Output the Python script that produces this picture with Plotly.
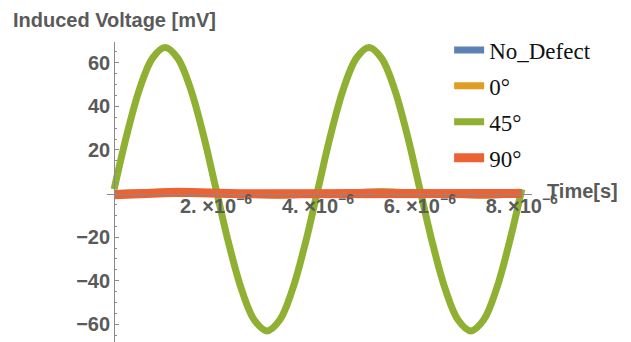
import plotly.graph_objects as go

# ---- data ----
t_us = [0, 0.25, 0.5, 0.75, 1.0, 1.25, 1.5, 1.75, 2.0, 2.25, 2.5, 2.75, 3.0, 3.25, 3.5, 3.75,
        4.0, 4.25, 4.5, 4.75, 5.0, 5.25, 5.5, 5.75, 6.0, 6.25, 6.5, 6.75, 7.0, 7.25, 7.5, 7.75, 8.0]
time_s = [v * 1e-6 for v in t_us]

no_defect = [0, 0.3, 0.6, 0.8, 0.8, 0.8, 0.6, 0.3, 0, -0.3, -0.6, -0.8, -0.8, -0.8, -0.6, -0.3,
             0, 0.3, 0.6, 0.8, 0.8, 0.8, 0.6, 0.3, 0, -0.3, -0.6, -0.8, -0.8, -0.8, -0.6, -0.3, 0]
deg0 = [0, 0.3, 0.6, 0.8, 0.8, 0.8, 0.6, 0.3, 0, -0.3, -0.6, -0.8, -0.8, -0.8, -0.6, -0.3,
        0, 0.3, 0.6, 0.8, 0.8, 0.8, 0.6, 0.3, 0, -0.3, -0.6, -0.8, -0.8, -0.8, -0.6, -0.3, 0]
deg45 = [2, 27, 48, 62, 67, 62, 48, 27, 2, -23, -44, -58, -63, -58, -44, -23,
         2, 27, 48, 62, 67, 62, 48, 27, 2, -23, -44, -58, -63, -58, -44, -23, 2]
deg90 = [-0.6, -0.3, 0.5, 0.6, 0.6, 0.6, 0.5, 0.0, 0.0, 0.0, -0.1, -0.1, -0.1, -0.1, 0.0, 0.0,
         0.0, 0.3, 0.5, 0.6, 0.6, 0.6, 0.5, 0.0, 0.0, 0.0, -0.1, -0.1, -0.1, -0.1, 0.0, 0.0, 0.0]

names = ["No_Defect", "0°", "45°", "90°"]
colors = ["#5E81B5", "#E19C24", "#8FB032", "#EB6235"]
series = [no_defect, deg0, deg45, deg90]

x_tick_vals = [2e-6, 4e-6, 6e-6, 8e-6]
x_tick_text = ["2. ×10<sup>−6</sup>", "4. ×10<sup>−6</sup>", "6. ×10<sup>−6</sup>", "8. ×10<sup>−6</sup>"]
y_tick_vals = [-60, -40, -20, 20, 40, 60]
y_tick_text = ["−60", "−40", "−20", "20", "40", "60"]

x_range = [-0.14e-6, 8.2e-6]
y_range = [-68.1, 69.5]

fig = go.Figure()
for i, (nm, c, ys) in enumerate(zip(names, colors, series)):
    fig.add_trace(go.Scatter(
        x=time_s, y=ys, mode="lines", name=nm,
        line=dict(color=c, width=9 if i == 3 else 7,
                  shape="spline" if i == 2 else "linear"),
        legendgroup=str(i),
    ))

axis_gray = "#8a8a8a"
label_gray = "#5a5a5a"
tick_font = dict(family="Liberation Sans", size=20, color=label_gray, weight="bold")

x0_frac = (0 - x_range[0]) / (x_range[1] - x_range[0])
y0_frac = (0 - y_range[0]) / (y_range[1] - y_range[0])

fig.update_layout(
    width=631, height=342,
    margin=dict(l=107, r=99, t=42, b=0),
    paper_bgcolor="white", plot_bgcolor="white",
    showlegend=True,
    legend=dict(
        x=0.805, y=1.045, xanchor="left", yanchor="top",
        font=dict(family="Liberation Serif", size=23, color="#111111"),
        bgcolor="rgba(0,0,0,0)", tracegroupgap=3, traceorder="grouped",
    ),
    xaxis=dict(
        range=x_range, anchor="free", position=y0_frac,
        showgrid=False, zeroline=False,
        showline=True, linecolor=axis_gray, linewidth=1,
        tickvals=x_tick_vals, ticktext=x_tick_text, tickfont=tick_font,
        ticks="inside", ticklen=4, tickcolor=axis_gray, ticklabelstandoff=-6,
        minor=dict(dtick=0.5e-6, tick0=0, ticks="inside", ticklen=2, tickcolor=axis_gray),
    ),
    yaxis=dict(
        range=y_range, anchor="free", position=x0_frac,
        showgrid=False, zeroline=False,
        showline=True, linecolor=axis_gray, linewidth=1,
        tickvals=y_tick_vals, ticktext=y_tick_text, tickfont=tick_font,
        ticks="inside", ticklen=4, tickcolor=axis_gray,
        minor=dict(dtick=5, tick0=0, ticks="inside", ticklen=2, tickcolor=axis_gray),
    ),
    annotations=[
        dict(text="Induced Voltage [mV]", xref="paper", yref="paper",
             x=-0.225, y=1.075, xanchor="left", yanchor="middle", showarrow=False,
             font=dict(family="Liberation Sans", size=20, color=label_gray, weight="bold")),
        dict(text="Time[s]", xref="paper", yref="paper",
             x=1.03, y=y0_frac + 0.01, xanchor="left", yanchor="middle", showarrow=False,
             font=dict(family="Liberation Sans", size=20, color=label_gray, weight="bold")),
    ],
)

fig.write_html("out.html")
